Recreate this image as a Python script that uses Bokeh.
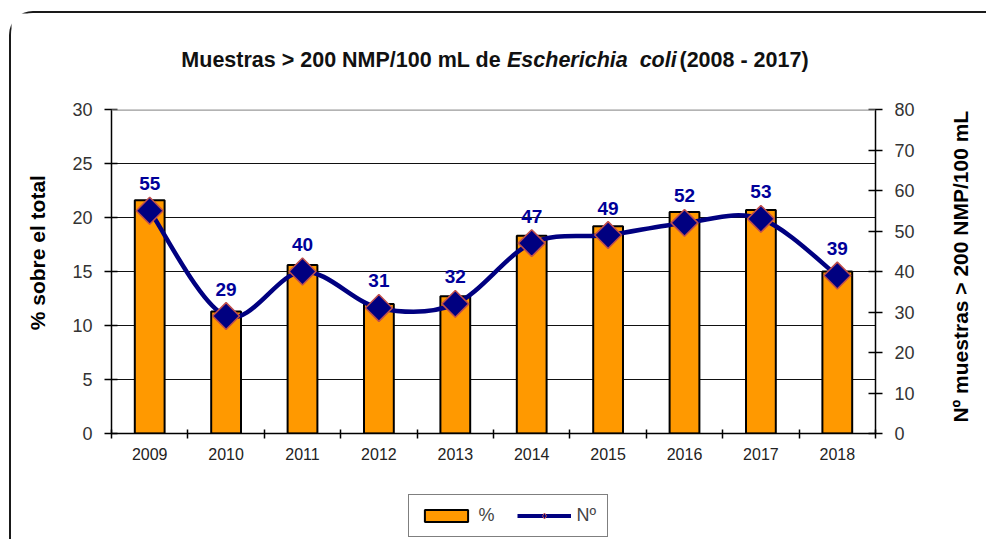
from bokeh.plotting import figure
from bokeh.layouts import column, row
from bokeh.models import (Range1d, LinearAxis, FixedTicker, LabelSet, ColumnDataSource,
                          Span, Legend, LegendItem, Grid)
from bokeh.core.properties import value
from bokeh.embed import file_html
from bokeh.resources import INLINE
import math

# ---------------- data ----------------
years = ["2009", "2010", "2011", "2012", "2013", "2014", "2015", "2016", "2017", "2018"]
pct = [21.6, 11.3, 15.6, 12.0, 12.7, 18.3, 19.2, 20.5, 20.7, 15.0]
num = [55, 29, 40, 31, 32, 47, 49, 52, 53, 39]
left_ticks = [0, 5, 10, 15, 20, 25, 30]
right_ticks = [0, 10, 20, 30, 40, 50, 60, 70, 80]
grid_ticks = [5, 10, 15, 20, 25]

FONT = "Liberation Sans"
ORANGE = "#FF9900"
NAVY = "#000080"
LBL = "#000099"
W = 975      # total content width
LW = 50      # left label strip
PW = 875     # main plot width
RW = W - LW - PW
MH = 370     # main plot height

n = len(years)
xs = list(range(n))


def blank(width, height):
    f = figure(width=width, height=height, x_range=Range1d(0, width), y_range=Range1d(0, height),
               output_backend="svg", toolbar_location=None, x_axis_type=None, y_axis_type=None,
               min_border=0)
    f.outline_line_color = None
    f.xgrid.visible = False
    f.ygrid.visible = False
    return f


# ---------------- title ----------------
TH = 82
tf = blank(W, TH)
ty = 36
common = dict(text_baseline="middle", text_font=value(FONT), text_font_size="21.5px",
              text_color="#111111")
tf.text(x=[489.5], y=[ty], text=["Muestras > 200 NMP/100 mL de"], text_align="right",
        text_font_style="bold", **common)
tf.text(x=[495.5], y=[ty], text=["Escherichia\u00a0 coli"], text_align="left",
        text_font_style="bold italic", **common)
tf.text(x=[668.0], y=[ty], text=["(2008 - 2017)"], text_align="left",
        text_font_style="bold", **common)

# ---------------- axis title strips ----------------
axt = dict(angle=math.pi / 2, text_align="center", text_baseline="middle",
           text_font=value(FONT), text_font_size="21px", text_font_style="bold",
           text_color="black")
lfig = blank(LW, MH)
lfig.text(x=[25.5], y=[206.5], text=["% sobre el total"], **axt)
rfig = blank(RW, MH)
rfig.text(x=[23.5], y=[190.5], text=["Nº muestras > 200 NMP/100 mL"], **axt)

# ---------------- main figure ----------------
p = figure(width=PW, height=MH, x_range=Range1d(-0.5, n - 0.5), y_range=Range1d(0, 30),
           output_backend="svg", toolbar_location=None,
           x_axis_type=None, y_axis_type=None,
           min_border_left=50, min_border_right=61, min_border_top=14, min_border_bottom=32)
p.outline_line_color = None
p.extra_y_ranges = {"n": Range1d(0, 80)}

p.add_layout(Grid(dimension=1, ticker=FixedTicker(ticks=grid_ticks),
                  grid_line_color="#111111", grid_line_width=1.2))
p.add_layout(Span(location=30, dimension="width", line_color="#9a9a9a", line_width=2.5))

xaxis = LinearAxis(ticker=FixedTicker(ticks=xs, minor_ticks=[i - 0.5 for i in range(n + 1)]),
                   major_label_overrides={i: y for i, y in enumerate(years)},
                   major_tick_line_color=None, major_tick_out=0, major_tick_in=0,
                   minor_tick_in=4, minor_tick_out=5, minor_tick_line_color="black",
                   minor_tick_line_width=1.5,
                   axis_line_color="black", axis_line_width=1.5,
                   major_label_standoff=9,
                   major_label_text_font=FONT, major_label_text_font_size="16px",
                   major_label_text_color="#222222")
p.add_layout(xaxis, "below")

laxis = LinearAxis(ticker=FixedTicker(ticks=left_ticks),
                   major_tick_in=6, major_tick_out=7, major_tick_line_width=1.5,
                   minor_tick_line_color=None,
                   axis_line_color="black", axis_line_width=1.5,
                   major_label_standoff=12,
                   major_label_text_font=FONT, major_label_text_font_size="18px",
                   major_label_text_color="#333333")
p.add_layout(laxis, "left")

raxis = LinearAxis(y_range_name="n", ticker=FixedTicker(ticks=right_ticks),
                   major_tick_in=7, major_tick_out=7, major_tick_line_width=1.5,
                   minor_tick_line_color=None,
                   axis_line_color="black", axis_line_width=1.5,
                   major_label_standoff=12,
                   major_label_text_font=FONT, major_label_text_font_size="18px",
                   major_label_text_color="#333333")
p.add_layout(raxis, "right")

p.vbar(x=xs, top=pct, width=0.39, fill_color=ORANGE, line_color="black", line_width=2)

# smoothed line through the data points (Bezier segments)
x0, y0, x1, y1, cx0, cy0, cx1, cy1 = [], [], [], [], [], [], [], []
for i in range(n - 1):
    ip = max(i - 1, 0)
    inn = min(i + 2, n - 1)
    x0.append(xs[i]); y0.append(num[i])
    x1.append(xs[i + 1]); y1.append(num[i + 1])
    cx0.append(xs[i] + (xs[i + 1] - xs[ip]) / 6.0)
    cy0.append(num[i] + (num[i + 1] - num[ip]) / 6.0)
    cx1.append(xs[i + 1] - (xs[inn] - xs[i]) / 6.0)
    cy1.append(num[i + 1] - (num[inn] - num[i]) / 6.0)
p.bezier(x0=x0, y0=y0, x1=x1, y1=y1, cx0=cx0, cy0=cy0, cx1=cx1, cy1=cy1,
         line_color=NAVY, line_width=4.5, line_cap="round", y_range_name="n")

p.scatter(x=xs, y=num, marker="square", angle=math.pi / 4, size=19,
          fill_color=NAVY, line_color="#C0504D", line_width=1.5, y_range_name="n")

src = ColumnDataSource(dict(x=xs, y=num, t=[str(v) for v in num]))
p.add_layout(LabelSet(x="x", y="y", text="t", source=src, y_range_name="n",
                      y_offset=27, text_align="center", text_baseline="middle",
                      text_font=value(FONT), text_font_size="19px", text_font_style="bold",
                      text_color=LBL))

# ---------------- legend strip ----------------
LH = 74
lf = figure(width=W, height=LH, x_range=Range1d(100, 101), y_range=Range1d(100, 101),
            output_backend="svg", toolbar_location=None, x_axis_type=None, y_axis_type=None,
            min_border=0)
lf.outline_line_color = None
lf.xgrid.visible = False
lf.ygrid.visible = False
r_bar = lf.vbar(x=xs, top=pct, width=0.4, fill_color=ORANGE, line_color="black",
                line_width=2, visible=False)
r_line = lf.line(x=xs, y=num, line_color=NAVY, line_width=4, visible=False)
r_mark = lf.scatter(x=xs, y=num, marker="diamond", size=10, fill_color=NAVY,
                    line_color="#C0504D", line_width=1, visible=False)
legend = Legend(items=[LegendItem(label="%", renderers=[r_bar]),
                       LegendItem(label="Nº", renderers=[r_line, r_mark])],
                orientation="horizontal", location=(396.5, 2.5),
                border_line_color="black", border_line_width=1.2,
                padding=10, spacing=18, margin=0,
                glyph_width=54, glyph_height=15, label_standoff=6,
                label_text_font=FONT, label_text_font_size="18px",
                background_fill_color="white")
lf.add_layout(legend, "center")

lay = column(tf, row(lfig, p, rfig, spacing=0), lf, spacing=0, margin=(11, 0, 0, 9),
             styles={"border-left": "2.5px solid #1a1a1a", "border-top": "2.5px solid #1a1a1a",
                     "border-top-left-radius": "24px"})

open("out.html", "w").write(file_html(lay, INLINE))
